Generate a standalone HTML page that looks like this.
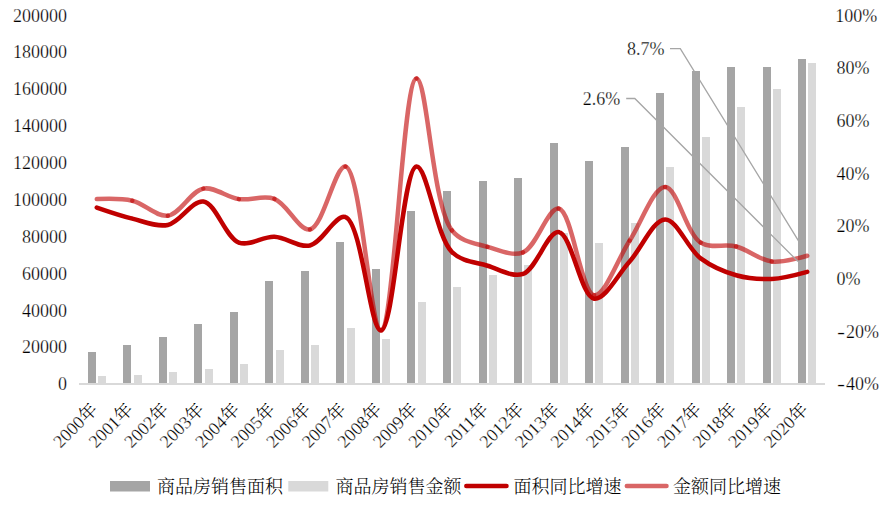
<!DOCTYPE html><html><head><meta charset="utf-8"><style>html,body{margin:0;padding:0;background:#fff;}svg{display:block;}text{font-family:"Liberation Serif", "Noto Serif CJK SC", serif;fill:#000;}.cj{font-weight:300;}.n{stroke:#fff;stroke-width:0.25px;}</style></head><body>
<svg width="892" height="508" viewBox="0 0 892 508">
<text x="67" y="390.3" text-anchor="end" font-size="18" class="n">0</text>
<text x="67" y="353.43" text-anchor="end" font-size="18" class="n">20000</text>
<text x="67" y="316.56" text-anchor="end" font-size="18" class="n">40000</text>
<text x="67" y="279.69" text-anchor="end" font-size="18" class="n">60000</text>
<text x="67" y="242.82" text-anchor="end" font-size="18" class="n">80000</text>
<text x="67" y="205.95" text-anchor="end" font-size="18" class="n">100000</text>
<text x="67" y="169.08" text-anchor="end" font-size="18" class="n">120000</text>
<text x="67" y="132.21" text-anchor="end" font-size="18" class="n">140000</text>
<text x="67" y="95.34" text-anchor="end" font-size="18" class="n">160000</text>
<text x="67" y="58.47" text-anchor="end" font-size="18" class="n">180000</text>
<text x="67" y="21.6" text-anchor="end" font-size="18" class="n">200000</text>
<text x="835.3" y="21.6" font-size="18" class="n">100%</text>
<text x="836.5" y="74.27" font-size="18" class="n">80%</text>
<text x="836.5" y="126.94" font-size="18" class="n">60%</text>
<text x="836.5" y="179.61" font-size="18" class="n">40%</text>
<text x="836.5" y="232.29" font-size="18" class="n">20%</text>
<text x="836.5" y="284.96" font-size="18" class="n">0%</text>
<text x="837" y="337.63" font-size="18" class="n" transform="translate(837 0) scale(1.35 1) translate(-837 0)">-</text>
<text x="846" y="337.63" font-size="18" class="n">20%</text>
<text x="837" y="390.3" font-size="18" class="n" transform="translate(837 0) scale(1.35 1) translate(-837 0)">-</text>
<text x="846" y="390.3" font-size="18" class="n">40%</text>
<rect x="88" y="352" width="8" height="32" fill="#A5A5A5"/>
<rect x="98" y="376" width="8" height="8" fill="#D9D9D9"/>
<rect x="123" y="345" width="8" height="39" fill="#A5A5A5"/>
<rect x="134" y="375" width="8" height="9" fill="#D9D9D9"/>
<rect x="159" y="337" width="8" height="47" fill="#A5A5A5"/>
<rect x="169" y="372" width="8" height="12" fill="#D9D9D9"/>
<rect x="194" y="324" width="8" height="60" fill="#A5A5A5"/>
<rect x="205" y="369" width="8" height="15" fill="#D9D9D9"/>
<rect x="230" y="312" width="8" height="72" fill="#A5A5A5"/>
<rect x="240" y="364" width="8" height="20" fill="#D9D9D9"/>
<rect x="265" y="281" width="8" height="103" fill="#A5A5A5"/>
<rect x="276" y="350" width="8" height="34" fill="#D9D9D9"/>
<rect x="301" y="271" width="8" height="113" fill="#A5A5A5"/>
<rect x="311" y="345" width="8" height="39" fill="#D9D9D9"/>
<rect x="336" y="242" width="8" height="142" fill="#A5A5A5"/>
<rect x="347" y="328" width="8" height="56" fill="#D9D9D9"/>
<rect x="372" y="269" width="8" height="115" fill="#A5A5A5"/>
<rect x="382" y="339" width="8" height="45" fill="#D9D9D9"/>
<rect x="407" y="211" width="8" height="173" fill="#A5A5A5"/>
<rect x="418" y="302" width="8" height="82" fill="#D9D9D9"/>
<rect x="443" y="191" width="8" height="193" fill="#A5A5A5"/>
<rect x="453" y="287" width="8" height="97" fill="#D9D9D9"/>
<rect x="479" y="181" width="8" height="203" fill="#A5A5A5"/>
<rect x="489" y="275" width="8" height="109" fill="#D9D9D9"/>
<rect x="514" y="178" width="8" height="206" fill="#A5A5A5"/>
<rect x="524" y="265" width="8" height="119" fill="#D9D9D9"/>
<rect x="550" y="143" width="8" height="241" fill="#A5A5A5"/>
<rect x="560" y="233" width="8" height="151" fill="#D9D9D9"/>
<rect x="585" y="161" width="8" height="223" fill="#A5A5A5"/>
<rect x="595" y="243" width="8" height="141" fill="#D9D9D9"/>
<rect x="621" y="147" width="8" height="237" fill="#A5A5A5"/>
<rect x="631" y="223" width="8" height="161" fill="#D9D9D9"/>
<rect x="656" y="93" width="8" height="291" fill="#A5A5A5"/>
<rect x="666" y="167" width="8" height="217" fill="#D9D9D9"/>
<rect x="692" y="71" width="8" height="313" fill="#A5A5A5"/>
<rect x="702" y="137" width="8" height="247" fill="#D9D9D9"/>
<rect x="727" y="67" width="8" height="317" fill="#A5A5A5"/>
<rect x="737" y="107" width="8" height="277" fill="#D9D9D9"/>
<rect x="763" y="67" width="8" height="317" fill="#A5A5A5"/>
<rect x="773" y="89" width="8" height="295" fill="#D9D9D9"/>
<rect x="798" y="59" width="8" height="325" fill="#A5A5A5"/>
<rect x="808" y="63" width="8" height="321" fill="#D9D9D9"/>
<rect x="79" y="383" width="746" height="2" fill="#D9D9D9"/>
<path d="M96.76 207.55C96.76 207.55 120.35 215.7 132.29 218.61M132.29 218.61C144.04 221.47 156.42 227.28 167.81 224.93M167.81 224.93C180.18 222.38 192.13 199.95 203.33 201.49M203.33 201.49C215.99 203.24 225.53 237.74 238.86 242.58M238.86 242.58C249.71 246.52 262.59 236.32 274.38 236.78M274.38 236.78C286.27 237.25 298.64 247.96 309.9 245.47M309.9 245.47C322.47 242.7 335.31 213.94 345.43 217.03M345.43 217.03C361.78 222.02 369.97 331.03 380.95 330.54M380.95 330.54C394 329.95 402.28 167.75 416.48 166.47M416.48 166.47C427.02 165.51 436.12 236.57 452 252.06M452 252.06C462.18 261.98 475.55 262.09 487.52 265.75M487.52 265.75C499.24 269.34 512.19 277.52 523.05 273.92M523.05 273.92C536.37 269.49 547.53 230.86 558.57 232.04M558.57 232.04C571.52 233.43 580.88 296.85 594.1 298.67M594.1 298.67C605 300.17 617.98 274.5 629.62 261.54M629.62 261.54C641.67 248.12 653.17 219.63 665.14 219.4M665.14 219.4C676.86 219.18 687.82 248.87 700.67 258.38M700.67 258.38C711.76 266.59 724.05 271.83 736.19 275.23M736.19 275.23C747.76 278.48 759.92 279.48 771.71 278.92M771.71 278.92C783.6 278.36 807.24 271.81 807.24 271.81" fill="none" stroke="#C00000" stroke-width="4.5" stroke-linecap="round" stroke-linejoin="round"/>
<g fill="none" stroke="#C00000" stroke-width="4.5" stroke-linecap="round" stroke-opacity="0.6">
<path d="M96.76 199.12C96.76 199.12 120.68 198.08 132.29 200.7"/>
<path d="M132.29 200.7C144.38 203.43 156.37 217.17 167.81 215.71"/>
<path d="M167.81 215.71C180.12 214.15 190.88 190.88 203.33 188.59"/>
<path d="M203.33 188.59C214.67 186.5 226.89 197.43 238.86 199.12"/>
<path d="M238.86 199.12C250.58 200.78 263.25 194.78 274.38 198.86"/>
<path d="M274.38 198.86C287.16 203.55 299.09 231.3 309.9 229.41"/>
<path d="M309.9 229.41C323.33 227.06 335.2 164.92 345.43 166.47"/>
<path d="M345.43 166.47C361 168.82 370.11 330.41 380.95 330.01"/>
<path d="M380.95 330.01C394.31 329.52 402.8 79.12 416.48 78.51"/>
<path d="M416.48 78.51C427.19 78.03 432.28 206.32 452 230.46"/>
<path d="M452 230.46C461.87 242.55 475.42 243.15 487.52 246.79"/>
<path d="M487.52 246.79C499.13 250.29 512.26 256.47 523.05 252.32"/>
<path d="M523.05 252.32C536.55 247.13 547.89 207.03 558.57 208.6"/>
<path d="M558.57 208.6C572.34 210.64 580.96 294.01 594.1 295.25"/>
<path d="M594.1 295.25C605.04 296.28 617.75 258.82 629.62 240.73"/>
<path d="M629.62 240.73C641.43 222.74 653.37 186.92 665.14 187.01"/>
<path d="M665.14 187.01C677.06 187.1 686.38 233.69 700.67 242.58"/>
<path d="M700.67 242.58C711.18 249.12 724.57 243.49 736.19 246.53"/>
<path d="M736.19 246.53C748.27 249.68 759.66 260.1 771.71 261.54"/>
<path d="M771.71 261.54C783.36 262.93 807.24 255.75 807.24 255.75"/>
</g>
<g fill="none" stroke="#A6A6A6" stroke-width="1.3">
<path d="M670 48.6H680.3L798.5 240.8"/>
<path d="M626.2 98.5H634.8L798 261.5"/>
</g>
<text x="627" y="55" font-size="18" class="n">8.7%</text>
<text x="582.8" y="104.6" font-size="18" class="n">2.6%</text>
<text transform="translate(98.66 410.6) rotate(-45)" text-anchor="end" font-size="18" class="cj"><tspan class="n">2000</tspan>年</text>
<text transform="translate(134.19 410.6) rotate(-45)" text-anchor="end" font-size="18" class="cj"><tspan class="n">2001</tspan>年</text>
<text transform="translate(169.71 410.6) rotate(-45)" text-anchor="end" font-size="18" class="cj"><tspan class="n">2002</tspan>年</text>
<text transform="translate(205.23 410.6) rotate(-45)" text-anchor="end" font-size="18" class="cj"><tspan class="n">2003</tspan>年</text>
<text transform="translate(240.76 410.6) rotate(-45)" text-anchor="end" font-size="18" class="cj"><tspan class="n">2004</tspan>年</text>
<text transform="translate(276.28 410.6) rotate(-45)" text-anchor="end" font-size="18" class="cj"><tspan class="n">2005</tspan>年</text>
<text transform="translate(311.8 410.6) rotate(-45)" text-anchor="end" font-size="18" class="cj"><tspan class="n">2006</tspan>年</text>
<text transform="translate(347.33 410.6) rotate(-45)" text-anchor="end" font-size="18" class="cj"><tspan class="n">2007</tspan>年</text>
<text transform="translate(382.85 410.6) rotate(-45)" text-anchor="end" font-size="18" class="cj"><tspan class="n">2008</tspan>年</text>
<text transform="translate(418.38 410.6) rotate(-45)" text-anchor="end" font-size="18" class="cj"><tspan class="n">2009</tspan>年</text>
<text transform="translate(453.9 410.6) rotate(-45)" text-anchor="end" font-size="18" class="cj"><tspan class="n">2010</tspan>年</text>
<text transform="translate(489.42 410.6) rotate(-45)" text-anchor="end" font-size="18" class="cj"><tspan class="n">2011</tspan>年</text>
<text transform="translate(524.95 410.6) rotate(-45)" text-anchor="end" font-size="18" class="cj"><tspan class="n">2012</tspan>年</text>
<text transform="translate(560.47 410.6) rotate(-45)" text-anchor="end" font-size="18" class="cj"><tspan class="n">2013</tspan>年</text>
<text transform="translate(596 410.6) rotate(-45)" text-anchor="end" font-size="18" class="cj"><tspan class="n">2014</tspan>年</text>
<text transform="translate(631.52 410.6) rotate(-45)" text-anchor="end" font-size="18" class="cj"><tspan class="n">2015</tspan>年</text>
<text transform="translate(667.04 410.6) rotate(-45)" text-anchor="end" font-size="18" class="cj"><tspan class="n">2016</tspan>年</text>
<text transform="translate(702.57 410.6) rotate(-45)" text-anchor="end" font-size="18" class="cj"><tspan class="n">2017</tspan>年</text>
<text transform="translate(738.09 410.6) rotate(-45)" text-anchor="end" font-size="18" class="cj"><tspan class="n">2018</tspan>年</text>
<text transform="translate(773.61 410.6) rotate(-45)" text-anchor="end" font-size="18" class="cj"><tspan class="n">2019</tspan>年</text>
<text transform="translate(809.14 410.6) rotate(-45)" text-anchor="end" font-size="18" class="cj"><tspan class="n">2020</tspan>年</text>
<rect x="110" y="481" width="40" height="10.5" fill="#A5A5A5"/>
<text x="157" y="493" font-size="18" class="cj">商品房销售面积</text>
<rect x="288.3" y="481" width="40" height="10.5" fill="#D9D9D9"/>
<text x="335.5" y="493" font-size="18" class="cj">商品房销售金额</text>
<path d="M466.3 486.1H506.5" stroke="#C00000" stroke-width="4.5" stroke-linecap="round"/>
<text x="513.5" y="493" font-size="18" class="cj">面积同比增速</text>
<path d="M626.8 486.1H666.5" stroke="#C00000" stroke-width="4.5" stroke-linecap="round" stroke-opacity="0.6"/>
<text x="673" y="493" font-size="18" class="cj">金额同比增速</text>
</svg></body></html>
